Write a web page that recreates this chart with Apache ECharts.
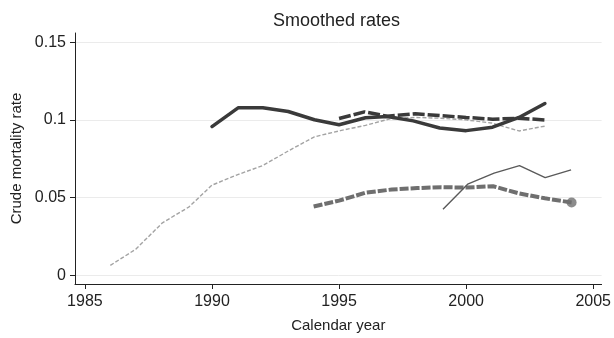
<!DOCTYPE html>
<html>
<head>
<meta charset="utf-8">
<script src="https://cdn.jsdelivr.net/npm/echarts@6/dist/echarts.min.js"></script>
<style>
html,body{margin:0;padding:0;background:#fff;}
#chart{width:614px;height:338px;}
</style>
</head>
<body>
<div id="chart"></div>
<script>
// ---- data ----
const titleText = "Smoothed rates";
const xName = "Calendar year";
const yName = "Crude mortality rate";
const xTicks = [1985, 1990, 1995, 2000, 2005];
const yTicks = [0, 0.05, 0.1, 0.15];
const yTickLabels = ["0", "0.05", "0.1", "0.15"];

// light grey short-dashed
const aX = [1986, 1987, 1988.05, 1989.1, 1990, 1991.04, 1992, 1993, 1994.03, 1995.05, 1996.04, 1997, 1998, 1999, 2000, 2001, 2002.08, 2003.1];
const aY = [0.0063, 0.0167, 0.0337, 0.044, 0.058, 0.0649, 0.0706, 0.080, 0.0891, 0.0931, 0.0965, 0.1007, 0.1016, 0.1011, 0.1000, 0.0980, 0.0929, 0.0960];
// dark thick solid
const bX = [1990, 1991.04, 1992, 1993, 1994.03, 1995, 1996.04, 1996.9, 1997.92, 1998.96, 2000, 2001.04, 2002.08, 2003.1];
const bY = [0.0957, 0.1079, 0.1079, 0.1054, 0.1001, 0.0969, 0.1014, 0.1022, 0.0994, 0.0948, 0.0931, 0.0953, 0.1016, 0.1106];
// dark thick long-dashed
const cX = [1995, 1996, 1996.9, 1998, 1998.96, 2000, 2001.04, 2002.08, 2003.1];
const cY = [0.1009, 0.1052, 0.1024, 0.1040, 0.1028, 0.1016, 0.1005, 0.1011, 0.1000];
// medium grey thick dashed, ends with a dot
const dX = [1994, 1995, 1996.04, 1997.08, 1998.08, 1999.03, 2000, 2001.06, 2002.07, 2003.1, 2004.15];
const dY = [0.0442, 0.0480, 0.0531, 0.0552, 0.0561, 0.0567, 0.0564, 0.0573, 0.0527, 0.0495, 0.0468];
// grey thin solid
const eX = [1999.09, 2000.06, 2001.1, 2002.1, 2003.11, 2004.13];
const eY = [0.0425, 0.0586, 0.0657, 0.0706, 0.0628, 0.0678];

const pairs = (xs, ys) => xs.map((x, i) => [x, ys[i]]);
const FONT = "Liberation Sans";
const TXT = "#222";

const chart = echarts.init(document.getElementById('chart'), null, {renderer: 'canvas'});
chart.setOption({
  animation: false,
  backgroundColor: '#fff',
  title: {
    text: titleText, left: 268, top: 7,
    textStyle: {fontFamily: FONT, fontSize: 18, fontWeight: 'normal', color: TXT}
  },
  grid: {left: 75, right: 7, top: 33, bottom: 49, containLabel: false},
  xAxis: {
    type: 'value', min: 1984.61, max: 2005.33,
    name: xName, nameLocation: 'middle', nameGap: 34,
    nameTextStyle: {fontFamily: FONT, fontSize: 15, color: TXT},
    axisLine: {show: true, onZero: false, lineStyle: {color: '#222', width: 1}},
    axisTick: {show: true, customValues: xTicks, length: 5, lineStyle: {color: '#222'}},
    axisLabel: {customValues: xTicks, formatter: v => String(v), margin: 10,
      fontFamily: FONT, fontSize: 16, color: TXT},
    splitLine: {show: false}
  },
  yAxis: {
    type: 'value', min: -0.0057, max: 0.156,
    name: yName, nameLocation: 'middle', nameGap: 50, nameRotate: 90,
    nameTextStyle: {fontFamily: FONT, fontSize: 15, color: TXT},
    axisLine: {show: true, onZero: false, lineStyle: {color: '#222', width: 1}},
    axisTick: {show: true, customValues: yTicks, length: 5, lineStyle: {color: '#222'}},
    axisLabel: {customValues: yTicks, formatter: v => yTickLabels[yTicks.indexOf(v)] ?? String(v),
      margin: 9, fontFamily: FONT, fontSize: 16, color: TXT},
    splitLine: {show: true, lineStyle: {color: '#ebebeb', width: 1}}
  },
  series: [
    {type: 'line', data: pairs(aX, aY), symbol: 'none', z: 2,
     lineStyle: {color: '#a3a3a3', width: 1.4, type: [4, 2]}},
    {type: 'line', data: pairs(bX, bY), symbol: 'none', z: 4,
     lineStyle: {color: '#3a3a3a', width: 3.5, join: 'round', cap: 'round'}},
    {type: 'line', data: pairs(cX, cY), symbol: 'none', z: 3,
     lineStyle: {color: '#3a3a3a', width: 3.5, type: [12, 3]}},
    {type: 'line', data: pairs(dX, dY), symbol: 'none', z: 3,
     lineStyle: {color: '#6f6f6f', width: 4, type: [9, 2]}},
    {type: 'scatter', data: [[dX[dX.length - 1], dY[dY.length - 1]]], symbol: 'circle', symbolSize: 10, z: 5,
     itemStyle: {color: '#6f6f6f'}},
    {type: 'line', data: pairs(eX, eY), symbol: 'none', z: 3,
     lineStyle: {color: '#5a5a5a', width: 1.4}}
  ]
});
</script>
</body>
</html>
